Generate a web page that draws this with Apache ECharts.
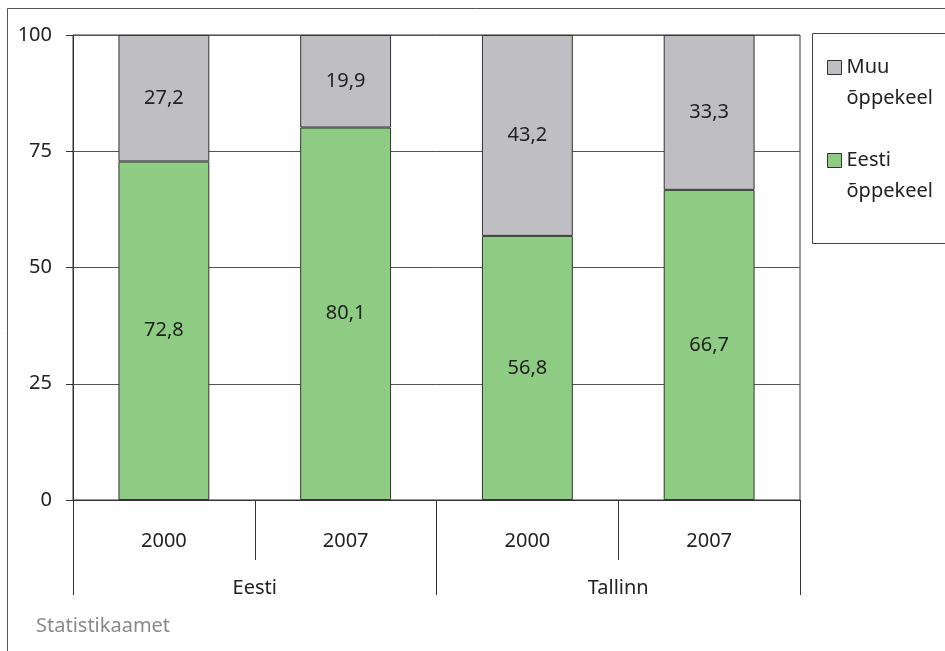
<!DOCTYPE html>
<html>
<head>
<meta charset="utf-8">
<script src="https://cdn.jsdelivr.net/npm/echarts@6/dist/echarts.min.js"></script>
<style>
html,body{margin:0;padding:0;background:#fff;}
#chart{width:945px;height:651px;}
</style>
</head>
<body>
<div id="chart"></div>
<script>
// ---- data ----
const years = ['2000', '2007', '2000', '2007'];
const regions = ['Eesti', 'Tallinn'];
const eestiOppekeel = [72.8, 80.1, 56.8, 66.7];
const muuOppekeel = [27.2, 19.9, 43.2, 33.3];
const seriesNames = ['Eesti\nõppekeel', 'Muu\nõppekeel'];
const yTicks = [0, 25, 50, 75, 100];
const sourceText = 'Statistikaamet';

// ---- chart ----
const FONT = 'Noto Sans';
const FS = 20;
const TXT = '#222222';
const fmt = v => String(v).replace('.', ',');
// square icon at the top of a taller box, so it lines up with the first text line
const LEGEND_ICON = 'path://M0,0h14v14h-14zM0,45';

const chart = echarts.init(document.getElementById('chart'), null, {renderer: 'canvas'});
const option = {
  animation: false,
  backgroundColor: '#ffffff',
  textStyle: {fontFamily: FONT},
  grid: {left: 73, top: 35, width: 727, height: 465, show: true, borderColor: '#333333', borderWidth: 1, containLabel: false},
  legend: {
    orient: 'vertical',
    left: 827,
    top: 52,
    padding: 0,
    icon: LEGEND_ICON,
    itemWidth: 14,
    itemHeight: 45,
    itemGap: 31,
    data: [seriesNames[1], seriesNames[0]],
    textStyle: {fontFamily: FONT, fontSize: FS, color: TXT, lineHeight: 31},
    itemStyle: {borderColor: '#333333', borderWidth: 1}
  },
  xAxis: [
    {
      type: 'category',
      data: years,
      position: 'bottom',
      axisLine: {show: true, lineStyle: {color: '#333333', width: 1}},
      axisTick: {show: true, length: 60, lineStyle: {color: '#333333'}},
      axisLabel: {fontFamily: FONT, fontSize: FS, color: TXT, margin: 41, verticalAlign: 'middle', interval: 0}
    },
    {
      type: 'category',
      data: regions,
      position: 'bottom',
      offset: 0,
      axisLine: {show: false},
      axisTick: {show: true, length: 95, lineStyle: {color: '#333333'}},
      axisLabel: {fontFamily: FONT, fontSize: FS, color: TXT, margin: 88, verticalAlign: 'middle', interval: 0}
    }
  ],
  yAxis: {
    type: 'value',
    min: yTicks[0],
    max: yTicks[yTicks.length - 1],
    interval: yTicks[1] - yTicks[0],
    axisLine: {show: true, lineStyle: {color: '#333333'}},
    axisTick: {show: true, inside: false, length: 7, lineStyle: {color: '#333333'}},
    axisLabel: {fontFamily: FONT, fontSize: FS, color: TXT, margin: 21},
    splitLine: {show: true, lineStyle: {color: '#555555', width: 1}}
  },
  series: [
    {
      name: seriesNames[0],
      type: 'bar',
      stack: 'total',
      barWidth: '50%',
      xAxisIndex: 0,
      data: eestiOppekeel,
      itemStyle: {color: '#8fcc83', borderColor: '#333333', borderWidth: 1},
      label: {show: true, position: 'inside', fontFamily: FONT, fontSize: FS, color: TXT, formatter: p => fmt(p.value)}
    },
    {
      name: seriesNames[1],
      type: 'bar',
      stack: 'total',
      barWidth: '50%',
      xAxisIndex: 0,
      data: muuOppekeel,
      itemStyle: {color: '#bebec3', borderColor: '#333333', borderWidth: 1},
      label: {show: true, position: 'inside', fontFamily: FONT, fontSize: FS, color: TXT, formatter: p => fmt(p.value)}
    }
  ],
  graphic: [
    {type: 'rect', silent: true, z: -1,
     shape: {x: 7.5, y: 8.5, width: 1000, height: 1000},
     style: {fill: 'none', stroke: '#555555', lineWidth: 1}},
    {type: 'rect', silent: true, z: -1,
     shape: {x: 812.5, y: 33.5, width: 200, height: 210},
     style: {fill: 'none', stroke: '#444444', lineWidth: 1}},
    {type: 'text', left: 36, top: 616,
     style: {text: sourceText, fill: '#8a8a8a', font: FS + 'px "Noto Sans"'}}
  ]
};
chart.setOption(option);
</script>
</body>
</html>
